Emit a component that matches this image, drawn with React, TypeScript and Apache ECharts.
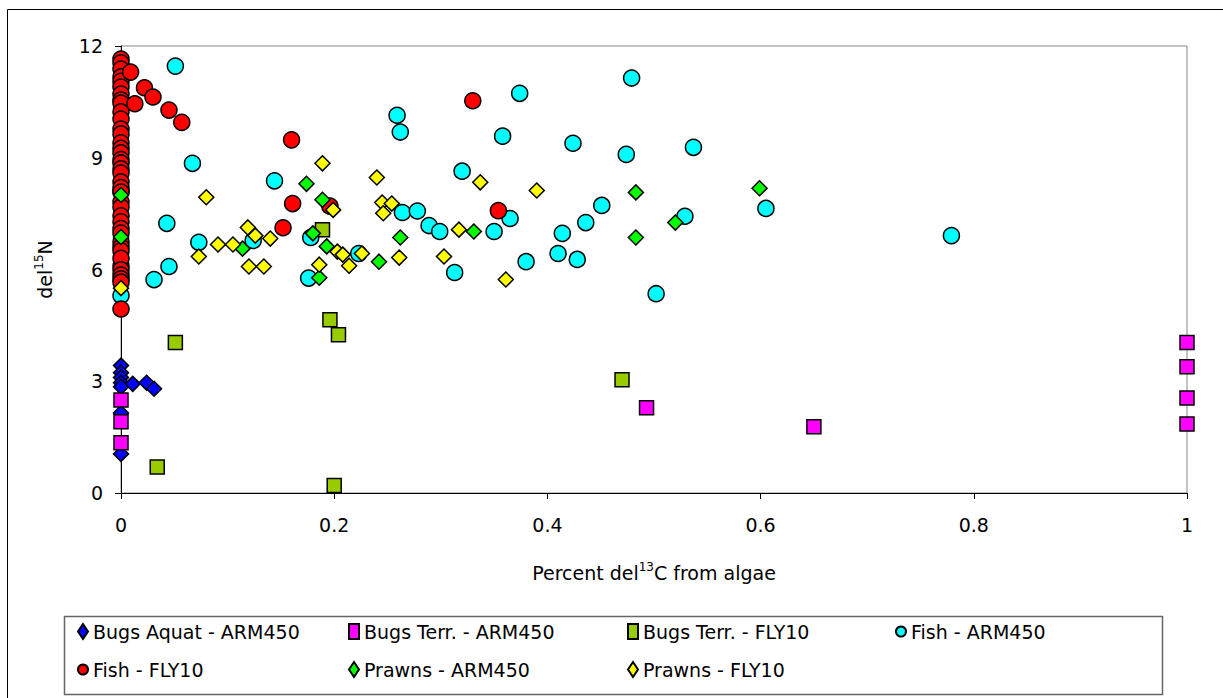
import React, { useEffect, useRef } from "react";
import * as echarts from "echarts";

const seriesNames = [
  "Bugs Aquat - ARM450",
  "Bugs Terr. - ARM450",
  "Bugs Terr. - FLY10",
  "Fish - ARM450",
  "Fish - FLY10",
  "Prawns - ARM450",
  "Prawns - FLY10",
];

const bugsAquatARM450: [number, number][] = [
  [0, 3.42], [0, 3.23], [0, 3.1], [0, 2.96], [0, 2.85], [0, 2.15], [0, 1.05],
  [0.011, 2.93], [0.024, 2.96], [0.031, 2.8],
];

const bugsTerrARM450: [number, number][] = [
  [0, 2.5], [0, 1.91], [0, 1.35], [0.493, 2.29], [0.65, 1.78],
  [1, 4.04], [1, 3.39], [1, 2.55], [1, 1.85],
];

const bugsTerrFLY10: [number, number][] = [
  [0.051, 4.04], [0.034, 0.7], [0.196, 4.65], [0.204, 4.25], [0.2, 0.2],
  [0.189, 7.07], [0.47, 3.04],
];

const fishARM450: [number, number][] = [
  [0, 8.1], [0, 6.1], [0, 5.3],
  [0.051, 11.46], [0.067, 8.85], [0.073, 6.73], [0.043, 7.24], [0.045, 6.08], [0.031, 5.73],
  [0.144, 8.38], [0.124, 6.78], [0.178, 6.86], [0.176, 5.77], [0.223, 6.43],
  [0.259, 10.14], [0.262, 9.69], [0.374, 10.73], [0.358, 9.58], [0.424, 9.39], [0.32, 8.64],
  [0.264, 7.53], [0.278, 7.57], [0.289, 7.18], [0.299, 7.02], [0.35, 7.02], [0.365, 7.37],
  [0.414, 6.97], [0.436, 7.26], [0.313, 5.92], [0.38, 6.21], [0.41, 6.43], [0.428, 6.27],
  [0.479, 11.14], [0.474, 9.09], [0.537, 9.28], [0.451, 7.72], [0.529, 7.43], [0.502, 5.35],
  [0.605, 7.64], [0.779, 6.91],
];

const fishFLY10Column: number[] = [
  11.65, 11.55, 11.38, 11.17, 11.05, 10.9, 10.71, 10.55, 10.47, 10.23, 10.04, 9.77, 9.64,
  9.4, 9.25, 9.13, 8.95, 8.86, 8.7, 8.59, 8.35, 8.2, 8.08, 7.81, 7.68, 7.44, 7.28, 7.1,
  6.98, 6.74, 6.6, 6.5, 6.3, 5.99, 5.85, 5.75, 5.66, 4.94,
];

const fishFLY10Other: [number, number][] = [
  [0.009, 11.3], [0.013, 10.45], [0.022, 10.88], [0.03, 10.63], [0.045, 10.28], [0.057, 9.95],
  [0.16, 9.48], [0.161, 7.77], [0.152, 7.12], [0.196, 7.7], [0.33, 10.53], [0.354, 7.58],
];

const prawnsARM450: [number, number][] = [
  [0, 8.0], [0, 6.87], [0.174, 8.3], [0.189, 7.87], [0.18, 6.97], [0.193, 6.62], [0.114, 6.56],
  [0.186, 5.78], [0.242, 6.21], [0.262, 6.86], [0.331, 7.02], [0.483, 8.07], [0.483, 6.86],
  [0.52, 7.26], [0.599, 8.18],
];

const prawnsFLY10: [number, number][] = [
  [0, 5.5], [0.08, 7.94], [0.073, 6.35], [0.091, 6.67], [0.105, 6.67], [0.119, 7.13],
  [0.126, 6.91], [0.14, 6.83], [0.12, 6.08], [0.134, 6.08], [0.189, 8.85], [0.24, 8.47],
  [0.337, 8.34], [0.39, 8.12], [0.199, 7.6], [0.245, 7.8], [0.254, 7.77], [0.246, 7.51],
  [0.317, 7.07], [0.203, 6.48], [0.208, 6.4], [0.226, 6.43], [0.186, 6.13], [0.214, 6.1],
  [0.261, 6.32], [0.303, 6.35], [0.361, 5.73],
];

const fishFLY10: [number, number][] = [
  ...fishFLY10Column.map((v) => [0, v] as [number, number]),
  ...fishFLY10Other,
];

const seriesData = [
  bugsAquatARM450, bugsTerrARM450, bugsTerrFLY10, fishARM450, fishFLY10, prawnsARM450, prawnsFLY10,
];
const colors = ["#0000ff", "#ff00ff", "#99cc00", "#00ffff", "#ff0000", "#00ff00", "#ffff00"];
const symbols = ["diamond", "rect", "rect", "circle", "circle", "diamond", "diamond"];
const sizes = [15, 14, 14, 16, 16, 15, 15];

const legendPos: [number, number][] = [
  [72, 617], [343, 617], [622, 617], [890, 617],
  [72, 655], [343, 655], [622, 655],
];

const FONT = "DejaVu Sans";
const FS = 19;

export default function App() {
  const ref = useRef<HTMLDivElement>(null);
  useEffect(() => {
    if (!ref.current) return;
    const chart = echarts.init(ref.current, undefined, { renderer: "svg" });
    const series = seriesNames.map((name, i) => ({
      name,
      type: "scatter",
      data: seriesData[i],
      symbol: symbols[i],
      symbolSize: sizes[i],
      itemStyle: { color: colors[i], borderColor: "#000", borderWidth: 1.5, opacity: 1 },
      z: 2 + i,
    }));
    const richName = {
      a: { fontSize: FS, fontFamily: FONT, color: "#000", lineHeight: 24 },
      s: { fontSize: 12, fontFamily: FONT, color: "#000", verticalAlign: "top", lineHeight: 24 },
    };
    chart.setOption({
      animation: false,
      backgroundColor: "#fff",
      graphic: [
        {
          type: "rect",
          shape: { x: 7.5, y: 9.5, width: 1230, height: 700 },
          style: { fill: "none", stroke: "#000", lineWidth: 1 },
          z: 0,
        },
        {
          type: "rect",
          shape: { x: 64.5, y: 616.5, width: 1098, height: 78 },
          style: { fill: "#fff", stroke: "#666", lineWidth: 1.5 },
          z: 0,
        },
      ],
      grid: {
        left: 121,
        top: 46,
        width: 1066,
        height: 447,
        show: true,
        borderColor: "#888",
        borderWidth: 1,
        backgroundColor: "transparent",
      },
      xAxis: {
        type: "value",
        min: 0,
        max: 1,
        interval: 0.2,
        splitLine: { show: false },
        axisLine: { show: true, onZero: false, lineStyle: { color: "#000", width: 1 } },
        axisTick: { show: true, length: 6, lineStyle: { color: "#000" } },
        axisLabel: { fontSize: FS, color: "#000", fontFamily: FONT, margin: 22 },
        name: "{a|Percent del}{s|13}{a|C from algae}",
        nameLocation: "middle",
        nameGap: 68,
        nameTextStyle: { rich: richName },
      },
      yAxis: {
        type: "value",
        min: 0,
        max: 12,
        interval: 3,
        splitLine: { show: false },
        axisLine: { show: true, onZero: false, lineStyle: { color: "#000", width: 1 } },
        axisTick: { show: true, length: 6, lineStyle: { color: "#000" } },
        axisLabel: { fontSize: FS, color: "#000", fontFamily: FONT, margin: 18 },
        name: "{a|del}{s|15}{a|N}",
        nameLocation: "middle",
        nameGap: 64,
        nameRotate: 90,
        nameTextStyle: { rich: richName },
      },
      legend: seriesNames.map((name, i) => ({
        data: [{ name, icon: symbols[i] }],
        left: legendPos[i][0],
        top: legendPos[i][1],
        itemWidth: 10,
        itemHeight: 15,
        selectedMode: false,
        textStyle: { fontSize: FS, fontFamily: FONT, color: "#000" },
      })),
      series,
    });
    return () => chart.dispose();
  }, []);
  return (
    <div
      ref={ref}
      style={{ position: "fixed", left: 0, top: 0, width: 1223, height: 698, background: "#fff" }}
    />
  );
}
